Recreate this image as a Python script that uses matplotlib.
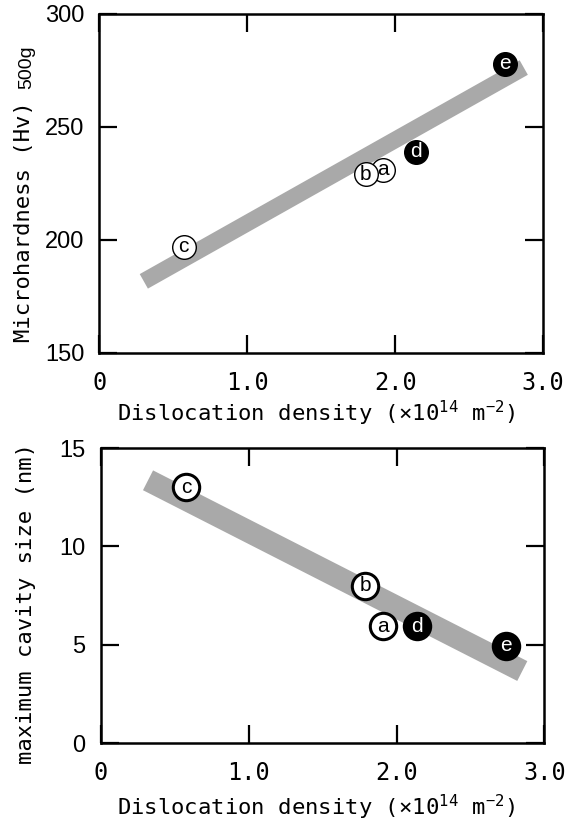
import matplotlib
matplotlib.use("Agg")
import matplotlib.pyplot as plt

# samples a-e
labels = ["a", "b", "c", "d", "e"]
filled = [False, False, False, True, True]

density_hv = [1.92, 1.80, 0.57, 2.14, 2.74]
hardness = [231, 229, 197, 239, 278]

density_cav = [1.91, 1.79, 0.58, 2.14, 2.74]
cavity = [5.95, 8.0, 13.0, 5.95, 4.95]

# thick grey trend bands
fit_hv_x = [0.30, 2.87]
fit_hv_y = [181.7, 276.3]
fit_cav_x = [0.32, 2.85]
fit_cav_y = [13.36, 3.66]

xticks = [0, 1.0, 2.0, 3.0]
xticklabels = ["0", "1.0", "2.0", "3.0"]
hv_ticks = [150, 200, 250, 300]
cav_ticks = [0, 5, 10, 15]

MONO = "DejaVu Sans Mono"
SANS = "Liberation Sans"
plt.rcParams["mathtext.fontset"] = "custom"
plt.rcParams["mathtext.rm"] = MONO
plt.rcParams["mathtext.it"] = MONO
xlab = "Dislocation density (×10$^{14}$ m$^{-2}$)"

fig = plt.figure(figsize=(5.78, 8.23), dpi=100)
ax1 = fig.add_axes([0.1721, 0.5711, 0.7673, 0.4119])
ax2 = fig.add_axes([0.1742, 0.0972, 0.7678, 0.3584])


def style(ax, yticks):
    ax.set_xlim(0, 3.0)
    ax.set_xticks(xticks)
    ax.set_xticklabels(xticklabels)
    ax.set_yticks(yticks)
    ax.set_ylim(yticks[0], yticks[-1])
    for s in ax.spines.values():
        s.set_linewidth(1.8)
    ax.tick_params(direction="in", length=13, width=1.6, top=True, right=True)
    ax.tick_params(axis="x", labelsize=17, pad=13, labelfontfamily=MONO)
    ax.tick_params(axis="y", labelsize=17, pad=11, labelfontfamily=SANS)


def points(ax, xs, ys, ms, mew, fs):
    for i, (x, y) in enumerate(zip(xs, ys)):
        fc = "black" if filled[i] else "white"
        tc = "white" if filled[i] else "black"
        ax.plot([x], [y], "o", ms=ms, mfc=fc, mec="black", mew=mew,
                zorder=5 + 2 * i, clip_on=False)
        ax.text(x, y, labels[i], color=tc, fontsize=fs, family=SANS,
                ha="center", va="center", zorder=6 + 2 * i)


# top: microhardness
style(ax1, hv_ticks)
ax1.plot(fit_hv_x, fit_hv_y, color="#a9a9a9", lw=12, solid_capstyle="butt", zorder=2)
points(ax1, density_hv, hardness, 17, 1.0, 15)

# bottom: cavity size
style(ax2, cav_ticks)
ax2.plot(fit_cav_x, fit_cav_y, color="#a9a9a9", lw=16, solid_capstyle="butt", zorder=2)
points(ax2, density_cav, cavity, 19, 2.2, 15)

fig.text(0.546, 0.498, xlab, family=MONO, fontsize=16, ha="center", va="center")
fig.text(0.546, 0.0194, xlab, family=MONO, fontsize=16, ha="center", va="center")

fig.text(24 / 578, 1 - 221.5 / 823, "Microhardness (Hv)", family=MONO, fontsize=16,
         rotation=90, ha="center", va="center")
fig.text(27 / 578, 1 - 67.5 / 823, "500g", family=SANS, fontsize=14,
         rotation=90, ha="center", va="center")
fig.text(26 / 578, 1 - 603 / 823, "maximum cavity size (nm)", family=MONO, fontsize=16,
         rotation=90, ha="center", va="center")

fig.savefig("out.png", dpi=100)
